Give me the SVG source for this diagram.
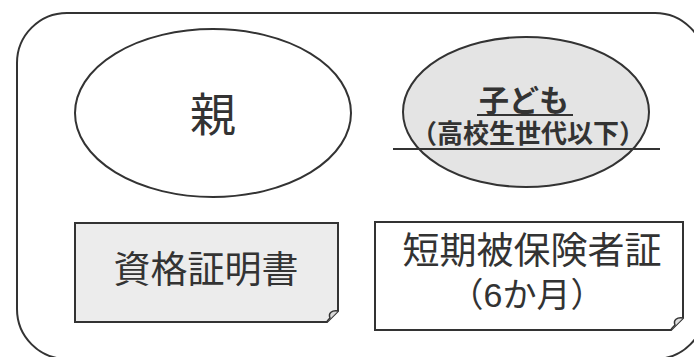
<svg xmlns="http://www.w3.org/2000/svg" width="694" height="357" viewBox="0 0 694 357">
<defs>
<style>
.ln{fill:none;stroke:#333;stroke-width:2}
.t{font-family:"Liberation Sans","Noto Sans CJK JP",sans-serif;fill:#333;text-anchor:middle}
.b{font-weight:700}
</style>
</defs>
<rect width="694" height="357" fill="#ffffff"/>
<g id="frame"><rect class="ln" x="17" y="13" width="688" height="346" rx="50" ry="50"/></g>
<g id="oya">
<ellipse class="ln" cx="213" cy="113" rx="138" ry="84" fill="#ffffff"/>
<text class="t" x="213" y="131" font-size="46">親</text>
</g>
<g id="kodomo">
<ellipse cx="526" cy="112" rx="123" ry="75" fill="#e4e4e4" stroke="#333" stroke-width="2"/>
<text class="t b" x="524" y="111" font-size="30">子ども</text>
<line x1="477" y1="115" x2="573" y2="115" stroke="#333" stroke-width="2"/>
<text class="t b" x="528" y="143" font-size="26">（高校生世代以下）</text>
<line x1="393" y1="149" x2="660" y2="149" stroke="#333" stroke-width="2"/>
</g>
<g id="shikaku">
<path d="M75,223 H338 V311 L327,322 H75 Z" fill="#ececec" stroke="#333" stroke-width="2"/>
<path d="M338,311 C332,310 328,313 330,318 C328,320 327,321 327,322" fill="#d8d8d8" stroke="#333" stroke-width="1.5"/>
<text class="t" x="206" y="283" font-size="37">資格証明書</text>
</g>
<g id="tanki">
<path d="M375,222 H683 V318 L671,330 H375 Z" fill="#ffffff" stroke="#333" stroke-width="2"/>
<path d="M683,318 C677,317 673,320 675,325 C673,327 671,329 671,330" fill="#e0e0e0" stroke="#333" stroke-width="1.5"/>
<text class="t" x="532" y="264" font-size="37">短期被保険者証</text>
<text class="t" x="527" y="307" font-size="34">（6か月）</text>
</g>
<g id="connectors"></g>
</svg>
